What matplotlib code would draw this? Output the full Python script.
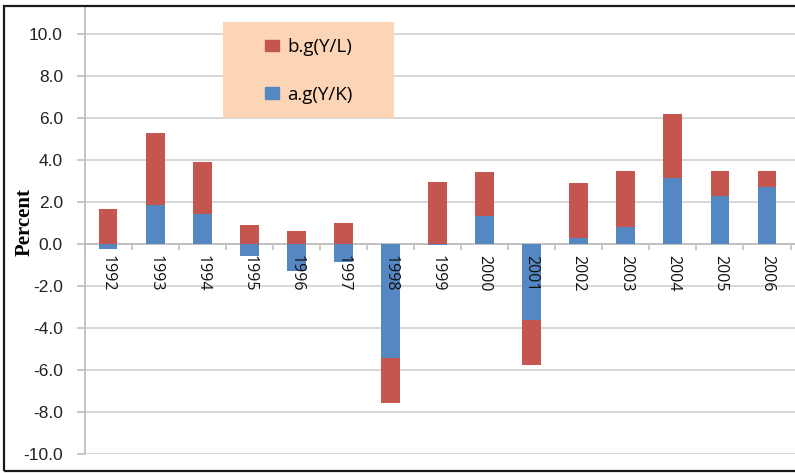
import matplotlib
matplotlib.use('Agg')
import matplotlib.pyplot as plt
import matplotlib.transforms as mtransforms
import numpy as np
from matplotlib.patches import Patch, Rectangle

years = [str(y) for y in range(1992, 2007)]
a_gYK = [-0.24, 1.86, 1.44, -0.56, -1.29, -0.86, -5.43, -0.07, 1.35, -3.62, 0.30, 0.83, 3.14, 2.30, 2.71]
b_gYL = [1.65, 3.43, 2.46, 0.90, 0.60, 1.00, -2.16, 2.95, 2.08, -2.16, 2.60, 2.65, 3.03, 1.18, 0.77]
y_ticks = [-10, -8, -6, -4, -2, 0, 2, 4, 6, 8, 10]

RED = '#C4554F'
BLUE = '#5587C2'
GRID = '#D4D4D4'
AXC = '#BFBFBF'

W, H = 795, 473
fig = plt.figure(figsize=(W / 100, H / 100), dpi=100)
ax = fig.add_axes([84.5 / W, 1 - 454 / H, (W - 84.5) / W, (454 - 6) / H])

a = np.array(a_gYK)
b = np.array(b_gYL)
x = np.arange(len(years))
ax.bar(x, a, 0.4, color=BLUE, zorder=3)
bottom_b = np.where(np.sign(a) == np.sign(b), a, 0.0)
ax.bar(x, b, 0.4, bottom=bottom_b, color=RED, zorder=3)

ax.set_xlim(-0.5, -0.5 + (W - 84.5) / 47.07)
ax.set_ylim(-10, -10 + 448 / 21)
ax.set_yticks(y_ticks)
ax.set_yticklabels([f'{v:.1f}' for v in y_ticks], fontsize=12.5,
                   family='Liberation Sans', color='#222222')
ax.yaxis.grid(True, color=GRID, lw=1.3, zorder=0)
ax.set_axisbelow(True)

for s in ['top', 'right']:
    ax.spines[s].set_visible(False)
ax.spines['left'].set_color(AXC)
ax.spines['bottom'].set_color(AXC)
ax.spines['left'].set_linewidth(1.3)
ax.spines['bottom'].set_linewidth(1.3)
ax.spines['bottom'].set_position(('data', 0))

ax.set_xticks(x)
ax.set_xticklabels([])
ax.set_xticks(np.arange(-0.5, len(years), 1), minor=True)
ax.tick_params(axis='x', which='major', length=0)
ax.tick_params(axis='x', which='minor', length=4.5, color=AXC, width=1.2, direction='out')
ax.tick_params(axis='y', length=5.5, color=AXC, width=1.2, pad=10)

lab_tr = mtransforms.offset_copy(ax.transData, fig=fig, y=-8, units='points')
for xi, yr in zip(x, years):
    ax.text(xi, 0, yr, transform=lab_tr, rotation=270, ha='center', va='top',
            fontsize=11.5, family='Open Sans', color='#111111', zorder=6)

fig.text(25 / W, 1 - 222 / H, 'Percent', rotation=90, ha='center', va='center',
         family='Liberation Serif', fontweight='bold', fontsize=15)

fig.patches.append(Rectangle((223 / W, 1 - 118 / H), 171 / W, 96 / H,
                             transform=fig.transFigure, facecolor='#FBD5B6',
                             edgecolor='none', zorder=4))
fig.legend(handles=[Patch(color=RED, label='b.g(Y/L)'),
                    Patch(color=BLUE, label='a.g(Y/K)')],
           loc='center', bbox_to_anchor=(309 / W, 1 - 71 / H), frameon=False,
           labelspacing=1.55, handlelength=0.75, handleheight=0.55,
           handletextpad=0.45, prop={'family': 'Open Sans', 'size': 13.5})

fig.patches.append(Rectangle((4 / W, 1 - 471 / H), 1.2, (471 - 6) / H,
                             transform=fig.transFigure, fill=False,
                             edgecolor='#1a1a1a', lw=1.6, zorder=10))

fig.savefig('out.png', dpi=100)
